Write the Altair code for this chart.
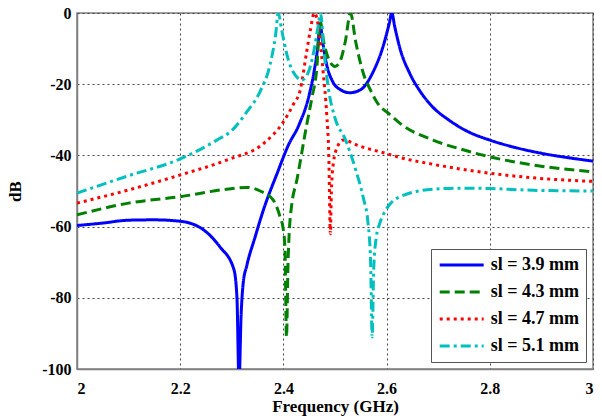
import altair as alt
import pandas as pd

# ---- data ----
series_names = ["sl = 3.9 mm", "sl = 4.3 mm", "sl = 4.7 mm", "sl = 5.1 mm"]
series_colors = ["#0000FF", "#008000", "#FF0000", "#00BFBF"]
series_dashes = [[1, 0], [10, 5], [3, 4], [10, 4, 3, 4]]

x_39 = [2.00, 2.05, 2.10, 2.15, 2.20, 2.246, 2.277, 2.304, 2.31, 2.314, 2.318, 2.322, 2.329,
        2.345, 2.362, 2.388, 2.41, 2.43, 2.45, 2.46, 2.467, 2.471, 2.476, 2.484, 2.496, 2.51,
        2.529, 2.55, 2.574, 2.594, 2.605, 2.61, 2.616, 2.626, 2.645, 2.665, 2.69, 2.72,
        2.756, 2.80, 2.85, 2.90, 2.95, 3.00]
y_39 = [-59.7, -59.0, -58.2, -58.1, -58.5, -61, -65.7, -72, -80, -104, -85, -76, -71,
        -63, -55, -45, -37, -31.5, -23, -16, -9, -3, -8, -14.6, -19.4, -21.5,
        -22.4, -21.5, -16.5, -9, -3, 0, -4, -10, -17, -22, -26.5, -30,
        -33.2, -35.7, -37.8, -39.4, -40.6, -41.6]

x_43 = [2.00, 2.10, 2.20, 2.29, 2.33, 2.355, 2.38, 2.393, 2.40, 2.403, 2.406, 2.409, 2.412,
        2.416, 2.426, 2.445, 2.455, 2.465, 2.471, 2.478, 2.488, 2.50, 2.51, 2.52, 2.53,
        2.54, 2.555, 2.57, 2.581, 2.607, 2.626, 2.69, 2.75, 2.80, 2.884, 3.00]
y_43 = [-56.7, -53.4, -51.6, -49.5, -49, -50, -52.5, -57, -61, -66, -91, -70, -60,
        -54, -47, -31.5, -24, -15, -2, -8, -13, -15, -13.5, -8, 0,
        -8, -17, -22, -25, -28.6, -31, -35.7, -38.5, -40.4, -42.7, -44.6]

x_47 = [2.00, 2.10, 2.20, 2.29, 2.362, 2.40, 2.42, 2.432, 2.445, 2.452, 2.46, 2.468, 2.477,
        2.484, 2.488, 2.491, 2.493, 2.497, 2.505, 2.515, 2.55, 2.60, 2.626, 2.69, 2.80,
        2.884, 3.00]
y_47 = [-53.4, -49.7, -45.5, -41.3, -36.6, -30.6, -25.5, -22, -11, -5, 0, -4, -16.6,
        -28.6, -40, -62, -50, -42, -37.5, -35.7, -37.5, -39.5, -40.6, -42.5, -45,
        -46.3, -47.3]

x_51 = [2.00, 2.10, 2.20, 2.271, 2.30, 2.329, 2.355, 2.374, 2.385, 2.39, 2.397, 2.407, 2.419,
        2.436, 2.45, 2.46, 2.467, 2.472, 2.478, 2.487, 2.50, 2.52, 2.54, 2.555, 2.564,
        2.569, 2.572, 2.575, 2.58, 2.587, 2.60, 2.626, 2.69, 2.75, 2.80, 2.884, 3.00]
y_51 = [-50.6, -45.7, -41, -35.7, -33, -27.8, -22, -14.6, -6, 0, -5, -11.8, -16.6,
        -18.8, -16, -10, -4, 0, -10, -21, -29.5, -35.5, -44, -52, -59,
        -70, -91, -72, -63, -59, -55, -51.6, -49.5, -49.2, -49.3, -49.8, -50]

x_ticks = [2, 2.2, 2.4, 2.6, 2.8, 3]
y_ticks = [-100, -80, -60, -40, -20, 0]

# ---- build long table ----
rows = []
for name, xs, ys in zip(series_names, [x_39, x_43, x_47, x_51], [y_39, y_43, y_47, y_51]):
    for i, (xv, yv) in enumerate(zip(xs, ys)):
        rows.append({"series": name, "x": xv, "y": yv, "i": i})
df = pd.DataFrame(rows)

FONT = "Liberation Serif"

chart = alt.Chart(df).mark_line(
    clip=True, interpolate="monotone", strokeWidth=3
).encode(
    x=alt.X("x:Q",
            scale=alt.Scale(domain=[2, 3], nice=False, zero=False),
            axis=alt.Axis(title="Frequency (GHz)", values=x_ticks,
                          labelExpr="'' + datum.value")),
    y=alt.Y("y:Q",
            scale=alt.Scale(domain=[-100, 0], nice=False),
            axis=alt.Axis(title="dB", values=y_ticks,
                          labelExpr="'' + datum.value")),
    color=alt.Color("series:N",
                    scale=alt.Scale(domain=series_names, range=series_colors),
                    title=None),
    strokeDash=alt.StrokeDash("series:N",
                              scale=alt.Scale(domain=series_names, range=series_dashes),
                              title=None),
    order="i:Q",
    detail="series:N",
).properties(
    width=516, height=356,
    autosize=alt.AutoSizeParams(type="none"),
    padding={"left": 77, "top": 13, "right": 9, "bottom": 49},
).configure_view(
    stroke="#808080", strokeWidth=1.5
).configure_axis(
    labelFont=FONT, titleFont=FONT, labelFontWeight="bold", titleFontWeight="bold",
    labelFontSize=16, titleFontSize=17, labelColor="#000", titleColor="#000",
    domainColor="#808080", domainWidth=1.5,
    grid=True, gridColor="#444444", gridDash=[2, 3], gridWidth=1, gridOpacity=1,
    ticks=False, tickSize=0, labelPadding=6,
).configure_axisX(
    labelPadding=11, titlePadding=2,
).configure_axisY(
    titlePadding=17, labelPadding=6,
).configure_legend(
    orient="none", legendX=354, legendY=236,
    labelFont=FONT, labelFontWeight="bold", labelFontSize=18, labelColor="#000",
    symbolType="M-3,0H3", symbolSize=215, symbolStrokeWidth=3,
    symbolOffset=14.7, labelOffset=20,
    strokeColor="#555555", fillColor="#FFFFFF", padding=7, rowPadding=9,
)

chart.save("out.html", embed_options={"renderer": "svg", "actions": False})
